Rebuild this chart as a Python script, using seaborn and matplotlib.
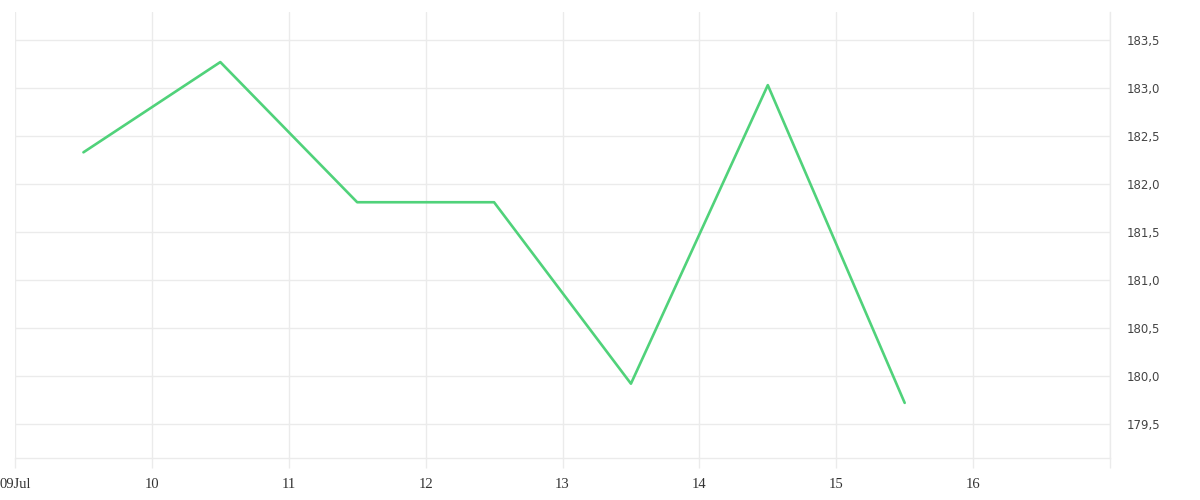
import matplotlib
matplotlib.use("Agg")
import matplotlib.pyplot as plt
import seaborn as sns
import pandas as pd

# data
days = [9.5, 10.5, 11.5, 12.5, 13.5, 14.5, 15.5]
values = [182.33, 183.27, 181.81, 181.81, 179.92, 183.03, 179.72]
x_ticks = [9, 10, 11, 12, 13, 14, 15, 16, 17]
x_labels = ["09Jul", "10", "11", "12", "13", "14", "15", "16", ""]
y_ticks = [179.5, 180.0, 180.5, 181.0, 181.5, 182.0, 182.5, 183.0, 183.5]
y_labels = ["179,5", "180,0", "180,5", "181,0", "181,5", "182,0", "182,5", "183,0", "183,5"]

sns.set_theme(style="white")
plt.rcParams['font.family'] = ['DejaVu Sans']

df = pd.DataFrame({"day": days, "value": values})

fig = plt.figure(figsize=(12, 5), dpi=100)
ax = fig.add_axes([15/1200, 42/500, (1110-15)/1200, (458-12)/500])

sns.lineplot(data=df, x="day", y="value", ax=ax, color="#50d27a", linewidth=1.9)

grid_c = "#ebebeb"
ax.set_xlim(9, 17)
ax.set_ylim(183.5 - 418/96, 183.5 + 28/96)
ax.set_xticks(x_ticks)
ax.set_xticklabels(x_labels, family=["Liberation Serif", "DejaVu Serif"], fontsize=10.5, color="#333333")
ax.set_yticks(y_ticks)
ax.set_yticklabels(y_labels, fontsize=8.5, color="#444444")
ax.yaxis.tick_right()
ax.tick_params(axis="y", length=0, pad=12)
ax.tick_params(axis="x", bottom=True, length=7.2, color=grid_c, width=1, pad=7.5, direction="out")
ax.grid(True, color=grid_c, linewidth=1)
for s in ["top", "left"]:
    ax.spines[s].set_visible(False)
for s in ["bottom", "right"]:
    ax.spines[s].set_visible(True)
    ax.spines[s].set_color(grid_c)
    ax.spines[s].set_linewidth(1)
ax.set_xlabel("")
ax.set_ylabel("")

fig.savefig("out.png", dpi=100)
